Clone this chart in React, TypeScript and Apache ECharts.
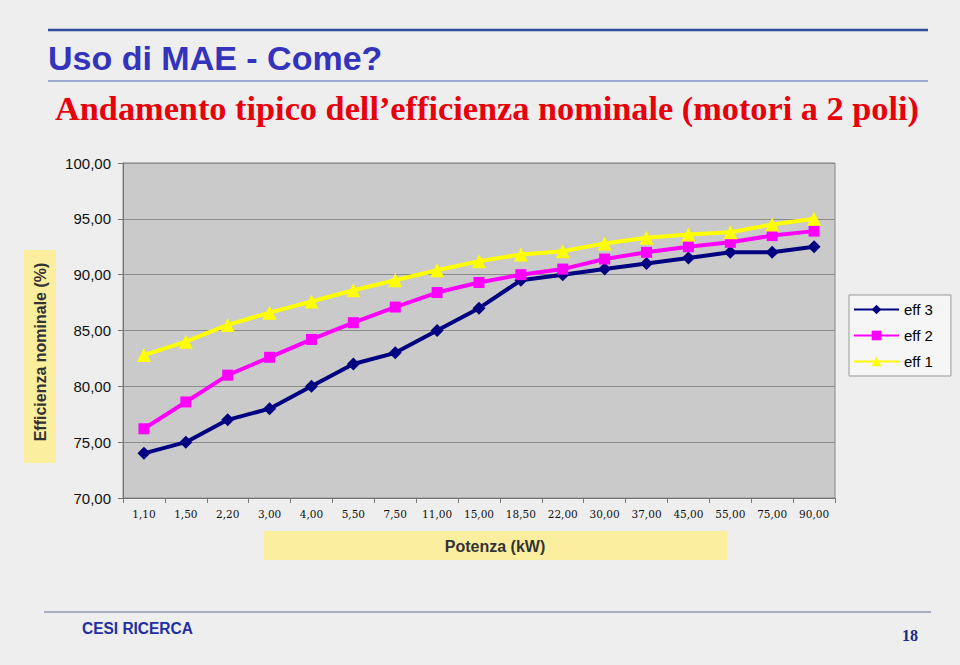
import React, { useEffect, useRef } from "react";
import * as echarts from "echarts";

const categories = ["1,10", "1,50", "2,20", "3,00", "4,00", "5,50", "7,50", "11,00", "15,00", "18,50", "22,00", "30,00", "37,00", "45,00", "55,00", "75,00", "90,00"];
const eff3 = [74.0, 75.0, 77.0, 78.0, 80.0, 82.0, 83.0, 85.0, 87.0, 89.5, 90.0, 90.5, 91.0, 91.5, 92.0, 92.0, 92.5];
const eff2 = [76.2, 78.6, 81.0, 82.6, 84.2, 85.7, 87.1, 88.4, 89.3, 90.0, 90.5, 91.4, 92.0, 92.5, 92.9, 93.5, 93.9];
const eff1 = [82.8, 84.0, 85.5, 86.6, 87.6, 88.6, 89.5, 90.4, 91.2, 91.8, 92.1, 92.8, 93.3, 93.6, 93.8, 94.5, 95.0];
const seriesNames = ["eff 3", "eff 2", "eff 1"];

const SANS = "Arial, 'Liberation Sans', sans-serif";
const SERIF = "'Times New Roman', 'Liberation Serif', serif";

export default function App() {
  const ref = useRef<HTMLDivElement>(null);
  useEffect(() => {
    document.body.style.margin = "0";
    const chart = echarts.init(ref.current!, null, { renderer: "svg" });
    const txt = (x: number, y: number, text: string, o: any = {}) => ({
      type: "text",
      x,
      y,
      rotation: o.rotation || 0,
      scaleX: o.scaleX || 1,
      silent: true,
      style: {
        text,
        fontSize: o.size || 14,
        fontWeight: o.weight || "normal",
        fontFamily: o.family || SANS,
        fill: o.fill || "#000",
        align: o.align || "left",
        verticalAlign: "middle",
        textAlign: o.align || "left",
        textVerticalAlign: "middle",
      },
    });
    chart.setOption({
      animation: false,
      backgroundColor: "#eeeeee",
      graphic: [
        { type: "line", shape: { x1: 48, y1: 30, x2: 928, y2: 30 }, style: { stroke: "#2f4c9c", lineWidth: 2.5 } },
        { type: "line", shape: { x1: 48, y1: 81, x2: 928, y2: 81 }, style: { stroke: "#8593c4", lineWidth: 1.5 } },
        txt(48, 57.5, "Uso di MAE - Come?", { size: 34, weight: "bold", fill: "#3333bb" }),
        txt(55, 108, "Andamento tipico dell\u2019efficienza nominale (motori a 2 poli)", { size: 34.3, weight: "bold", family: SERIF, fill: "#e8000b" }),
        { type: "rect", shape: { x: 24, y: 250, width: 32, height: 213 }, style: { fill: "#fbee9f" } },
        txt(40, 352, "Efficienza nominale (%)", { size: 16, weight: "bold", fill: "#333", align: "center", rotation: Math.PI / 2 }),
        { type: "rect", shape: { x: 264, y: 531, width: 463, height: 29 }, style: { fill: "#fbee9f" } },
        txt(495, 546, "Potenza (kW)", { size: 16, weight: "bold", fill: "#333", align: "center" }),
        { type: "line", shape: { x1: 44, y1: 612, x2: 931, y2: 612 }, style: { stroke: "#9096b0", lineWidth: 1.5 } },
        txt(82, 627.5, "CESI RICERCA", { size: 17, weight: "bold", fill: "#1f2fa5", scaleX: 0.91 }),
        txt(918, 635, "18", { size: 17.5, weight: "bold", family: SERIF, fill: "#1a2a85", align: "right", scaleX: 0.92 }),
      ],
      legend: {
        data: seriesNames,
        orient: "vertical",
        left: 849,
        top: 295,
        padding: [7, 18, 7, 4],
        itemWidth: 45,
        itemHeight: 12,
        itemGap: 11,
        backgroundColor: "#f6f6f6",
        borderColor: "#999999",
        borderWidth: 1,
        borderRadius: 0,
        textStyle: { fontSize: 15, fontFamily: SANS, color: "#000" },
      },
      grid: {
        left: 123,
        top: 163,
        width: 712,
        height: 335,
        show: true,
        backgroundColor: "#cacaca",
        borderColor: "#888888",
        borderWidth: 1,
      },
      xAxis: {
        type: "category",
        data: categories,
        boundaryGap: true,
        axisLine: { lineStyle: { color: "#777", width: 1 } },
        axisTick: { show: true, length: 5, lineStyle: { color: "#777" } },
        axisLabel: { fontSize: 10.5, fontFamily: "'DejaVu Serif', serif", color: "#111", margin: 10, interval: 0 },
        splitLine: { show: false },
      },
      yAxis: {
        type: "value",
        min: 70,
        max: 100,
        interval: 5,
        axisLine: { show: true, lineStyle: { color: "#777", width: 1 } },
        axisTick: { show: true, length: 5, lineStyle: { color: "#777" } },
        axisLabel: {
          fontSize: 15,
          fontFamily: SANS,
          color: "#111",
          margin: 12,
          formatter: (v: number) => v.toFixed(2).replace(".", ","),
        },
        splitLine: { show: true, lineStyle: { color: "#8c8c8c", width: 1 } },
      },
      series: [
        { name: "eff 3", type: "line", data: eff3, symbol: "diamond", symbolSize: 13, lineStyle: { color: "#000080", width: 4 }, itemStyle: { color: "#000080" } },
        { name: "eff 2", type: "line", data: eff2, symbol: "rect", symbolSize: 11, lineStyle: { color: "#ff00ff", width: 4 }, itemStyle: { color: "#ff00ff" } },
        { name: "eff 1", type: "line", data: eff1, symbol: "triangle", symbolSize: 14, lineStyle: { color: "#ffff00", width: 4 }, itemStyle: { color: "#ffff00" } },
      ],
    });
    return () => chart.dispose();
  }, []);
  return <div ref={ref} style={{ position: "absolute", left: 0, top: 0, width: 960, height: 665 }} />;
}
